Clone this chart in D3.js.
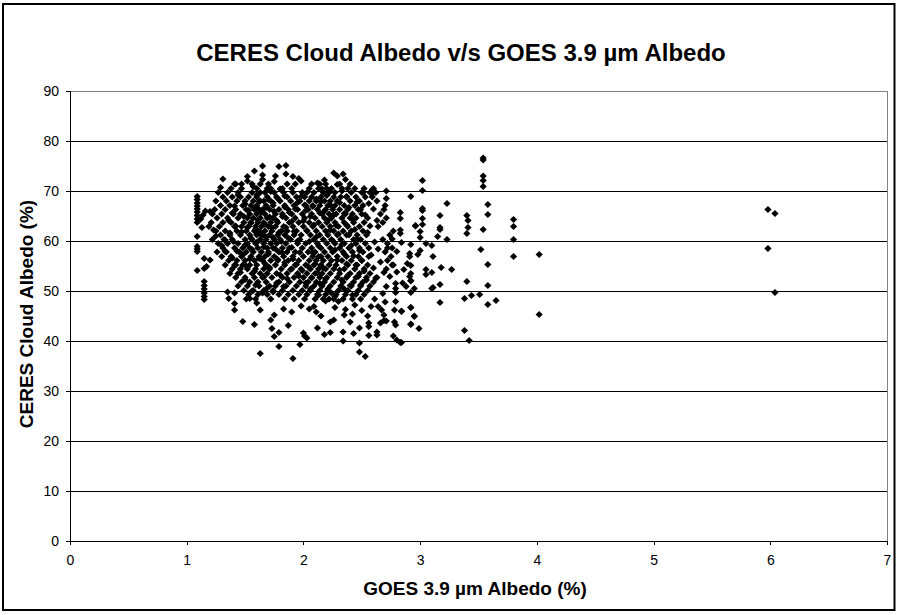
<!DOCTYPE html>
<html>
<head>
<meta charset="utf-8">
<script src="https://cdnjs.cloudflare.com/ajax/libs/d3/7.8.5/d3.min.js"></script>
<style>
  html, body { margin: 0; padding: 0; background: #fff; }
  text { font-family: "Liberation Sans", Arial, sans-serif; fill: #000; }
</style>
</head>
<body>
<div id="chart"></div>
<script>
var xTicks = [0, 1, 2, 3, 4, 5, 6, 7];
var yTicks = [0, 10, 20, 30, 40, 50, 60, 70, 80, 90];

// outlying points, read one by one: [GOES albedo, CERES albedo]
var sparsePoints = [
  [3.54,76.6],[3.54,76.2],[3.54,73.0],[3.54,72.1],[3.54,70.9],[3.02,72.1],[3.02,70.1],[2.92,68.9],
  [3.23,67.5],[3.58,67.3],[3.58,65.3],[3.02,66.5],[3.02,66.1],[3.17,65.1],[3.40,65.1],[3.41,64.1],
  [3.80,64.3],[3.80,62.9],[3.02,64.5],[3.02,63.3],[2.96,63.1],[3.17,62.7],[3.17,62.3],[3.41,62.7],
  [3.54,62.3],[3.40,61.5],[3.00,61.9],[3.00,60.7],[3.15,60.9],[3.23,60.3],[3.80,60.3],[4.02,57.3],
  [3.80,56.9],[3.52,58.3],[2.92,59.3],[3.05,59.5],[3.10,59.1],[3.00,58.1],[2.98,57.3],[2.91,57.5],
  [2.91,56.9],[3.11,56.9],[2.89,55.5],[2.92,55.1],[3.58,55.3],[3.18,54.7],[3.27,54.3],[3.05,54.3],
  [3.05,53.3],[3.10,53.7],[2.86,54.3],[2.92,53.5],[2.91,52.9],[2.92,52.1],[3.40,51.9],[3.58,51.1],
  [3.17,51.3],[3.10,50.5],[3.11,50.7],[2.95,50.5],[2.88,50.9],[2.92,49.7],[3.44,49.1],[3.51,49.3],
  [3.38,48.5],[3.17,47.7],[3.58,47.3],[3.65,48.1],[2.92,46.7],[2.84,45.9],[2.95,44.9],[4.02,45.3],
  [2.92,43.3],[2.99,42.5],[3.38,42.1],[3.42,40.1],[2.83,39.7],
  [5.98,66.3],[6.04,65.5],[5.98,58.5],[6.04,49.7],
  [1.09,68.9],[1.09,68.3],[1.09,67.6],[1.09,67.0],[1.09,66.4],[1.09,65.8],[1.09,65.1],[1.09,64.4],
  [1.09,63.7],[1.16,66.0],[1.14,65.2],[1.12,64.4],[1.13,62.7],[1.09,60.9],[1.09,58.9],[1.09,58.4],
  [1.09,57.9],[1.15,56.5],[1.17,54.9],[1.15,54.5],[1.09,54.1],[1.15,51.9],[1.15,51.1],[1.15,50.4],
  [1.15,49.6],[1.15,48.9],[1.15,48.3],[1.20,65.9],[1.23,62.2],[1.25,61.0],[1.20,56.2],
  [1.65,75.0],[1.58,74.0],[1.79,74.9],[1.85,75.1],[1.85,73.4],[1.91,72.9],[1.96,72.5],[1.31,72.4],
  [1.29,70.7],[1.42,71.4],[1.47,71.4],[1.52,72.9],[1.52,72.0],[1.65,73.2],[1.65,72.3],[1.76,73.0],
  [1.75,71.9],[1.63,37.5],[1.91,36.5],[1.79,38.9],[1.75,40.9],[1.79,41.7],[1.73,42.5],[1.87,43.1],
  [1.48,43.9],[1.58,43.3],[1.41,46.2],[1.41,47.5],[1.36,48.5],[1.54,48.5],[1.60,47.6],[1.63,46.2],
  [1.75,45.2],[1.72,44.2],[1.35,49.8],[1.41,49.6],[1.83,46.4],[1.90,45.8],[1.98,47.0],
  [2.26,73.6],[2.29,73.0],[2.34,73.4],[2.36,72.3],[1.98,72.0],[2.18,72.2],[2.12,71.6],[2.83,65.7],
  [2.83,64.5],[2.83,62.2],[2.83,61.5],[2.71,70.0],[2.71,68.5],[2.59,70.3],[2.59,69.5],[2.51,69.7],
  [2.96,63.0],[2.48,37.8],[2.53,36.9],[1.97,39.3],[2.34,40.0],[2.48,39.6],[2.34,41.8],[2.43,41.5],
  [2.23,41.7],[2.18,41.3],[2.12,42.6],[2.03,40.6],[2.00,41.6],[2.01,41.0],[2.56,41.1],[2.63,41.8],
  [2.63,41.2],[2.56,43.6],[2.56,42.9],[2.48,42.6],[2.40,43.8],[2.23,43.8],[2.26,44.2],[2.66,43.6],
  [2.69,44.1],[2.71,44.0],[2.69,45.2],[2.55,45.0],[2.78,43.8],[2.79,43.2],[2.77,41.0],[2.80,40.2],
  [2.84,39.7],[2.92,43.4],[2.95,45.0],[2.92,46.7],[2.84,46.0],[2.78,46.2],[2.79,47.9],[2.79,49.7],
  [2.79,50.5],[2.79,51.5],[2.85,51.6],[2.92,52.0],[2.67,46.2],[2.64,46.9],[2.70,47.8],[2.58,46.9],
  [2.50,46.1],[2.42,45.4],[2.36,46.3],[2.44,47.2],[2.30,47.9],[2.22,48.4],[2.11,45.8],[2.15,45.0],
  [2.05,46.4],[2.09,46.9],[2.27,46.7],[2.35,45.2]
];

// thick clumps inside the cloud, placed by eye
var clumpPoints = [
  [1.57,70.9],[1.60,69.2],[1.62,67.9],[1.58,66.6],[1.64,65.7],[1.61,64.2],[1.67,63.3],[1.59,62.4],
  [1.63,61.4],[1.68,60.8],[1.60,59.7],[1.66,58.8],[1.70,57.4],[1.62,56.5],[1.67,55.5],[1.71,54.7],
  [1.58,53.9],[1.66,52.8],[1.72,69.9],[1.70,68.3],[1.74,67.6],[1.68,66.7],[1.75,65.9],[1.71,64.8],
  [1.77,64.1],[1.73,62.6],[1.79,61.7],[1.74,60.7],[1.81,59.9],[1.76,58.4],[1.82,57.6],[1.78,56.3],
  [1.84,55.7],[1.50,67.4],[1.53,66.1],[1.49,64.9],[1.55,63.6],[1.52,62.7],[1.47,61.8],[1.55,60.6],
  [1.50,59.2],[1.56,58.3],[1.48,57.2],[1.54,56.4],[1.51,55.0],[1.44,69.2],[1.41,67.0],[1.39,65.6],
  [1.36,64.1],[1.42,63.0],[1.37,61.6],[1.40,59.9],[1.43,58.0],[1.84,66.8],[1.88,65.7],[1.82,64.9],
  [1.90,63.9],[1.85,62.7],[1.92,61.9],[1.87,60.6],[1.95,60.0],[1.90,58.7],[1.97,57.7],[1.91,56.4],
  [2.02,66.1],[2.06,64.9],[2.00,64.0],[2.09,63.2],[2.03,62.1],[2.11,60.8],[2.05,59.9],[2.13,59.0],
  [2.08,57.6],[2.15,56.9],[2.10,55.4],[2.17,54.6],[2.12,53.6],[2.19,52.4],[2.14,51.5],[2.21,50.4],
  [2.16,70.4],[2.20,69.1],[2.15,67.9],[2.23,67.2],[2.18,66.0],[2.26,65.2],[2.21,64.1],[2.28,63.1],
  [2.23,62.2],[2.30,61.4],[2.25,60.1],[2.33,59.3],[2.27,58.2],[2.35,57.4],[2.29,56.2],[2.37,55.4],
  [2.31,54.2],[2.38,53.1],[2.33,52.2],[2.40,51.1],[2.35,50.4],[2.42,49.2],[2.29,71.3],[2.33,70.0],
  [2.37,68.9],[2.31,67.7],[2.39,66.7],[2.35,65.5],[2.42,64.4],[2.37,63.2],[2.44,62.3],[2.39,61.2],
  [2.46,60.4],[2.41,59.1],[2.48,58.1],[2.43,57.0],[2.50,56.1],[2.45,55.2],[2.52,54.0],[2.47,52.9],
  [2.54,52.2],[2.49,51.2],[2.24,49.6],[2.27,48.9],[2.19,48.0],[2.13,49.2],[2.06,50.4],[2.02,51.6],
  [1.96,53.0],[1.99,54.1],[1.94,55.3],[2.07,52.6],[2.04,54.9],[1.89,54.3],[1.86,52.5],[1.80,53.2],
  [1.83,50.9],[1.77,51.6],[1.74,49.8],[1.69,50.6],[1.65,49.6],[1.59,51.2],[1.56,50.0],[1.50,52.3],
  [1.46,53.7],[1.42,55.2],[1.39,56.6],[1.33,57.9],[1.30,59.1],[1.33,60.2],[2.56,67.5],[2.60,66.4],
  [2.53,65.2],[2.63,64.1],[2.57,63.0],[2.49,66.3],[2.46,67.8],[2.55,61.7],[2.61,59.8],[2.64,58.4],
  [2.58,57.2],[2.66,55.8],[2.60,54.6],[2.69,53.7],[2.62,52.6],[2.74,52.9],[2.71,50.9],[2.68,49.5],
  [2.72,58.6],[2.76,55.2],[2.80,53.8],[2.80,57.9],[2.76,60.4],[2.84,59.7],[1.98,68.9],[1.95,67.7],
  [2.01,67.2],[1.93,66.4],[2.11,68.4],[2.08,66.9],[2.14,65.6],[1.80,70.4],[1.78,68.5],[1.84,69.0]
];

// dense middle of the cloud, one list of GOES values per CERES level
var ceresLevels = [71.4,70.5,69.7,68.8,68.0,67.1,66.3,65.4,64.6,63.7,62.9,62.0,61.2,60.3,59.5,58.6,57.8,56.9,56.1,55.2,54.4,53.5,52.7,51.8,51.0,50.1,49.3,48.4];
var goesByLevel = [
  [1.41,1.56,1.63,1.70,1.86,1.93,2.07,2.14,2.19,2.31,2.40],
  [1.38,1.47,1.60,1.69,1.72,1.82,1.90,2.05,2.13,2.20,2.24,2.33,2.38,2.44,2.52,2.60],
  [1.27,1.35,1.44,1.56,1.63,1.67,1.75,1.83,1.91,1.99,2.03,2.09,2.17,2.22,2.27,2.41,2.50,2.57,2.62],
  [1.31,1.39,1.46,1.53,1.60,1.69,1.77,1.86,1.94,2.01,2.07,2.15,2.26,2.32,2.37,2.45,2.53,2.59],
  [1.25,1.34,1.43,1.50,1.57,1.63,1.66,1.72,1.80,1.89,1.97,2.05,2.11,2.18,2.23,2.29,2.40,2.48,2.63],
  [1.29,1.37,1.48,1.55,1.60,1.68,1.74,1.84,1.92,2.02,2.08,2.14,2.21,2.27,2.35,2.44,2.51,2.70],
  [1.24,1.33,1.42,1.51,1.58,1.62,1.65,1.71,1.79,1.87,1.95,2.04,2.12,2.19,2.25,2.31,2.38,2.47,2.69],
  [1.22,1.30,1.40,1.46,1.54,1.60,1.67,1.76,1.82,1.90,1.99,2.07,2.16,2.22,2.28,2.36,2.42,2.50,2.66],
  [1.26,1.35,1.44,1.52,1.57,1.63,1.69,1.74,1.85,1.93,2.01,2.10,2.18,2.24,2.33,2.40,2.45,2.55,2.71],
  [1.21,1.31,1.38,1.49,1.55,1.61,1.66,1.72,1.78,1.88,1.96,2.05,2.13,2.20,2.27,2.35,2.43,2.52,2.68],
  [1.19,1.28,1.41,1.47,1.53,1.59,1.64,1.70,1.76,1.83,1.91,2.00,2.08,2.16,2.23,2.30,2.38,2.48,2.64],
  [1.25,1.33,1.43,1.51,1.58,1.62,1.67,1.73,1.81,1.86,1.94,2.03,2.11,2.19,2.26,2.34,2.41,2.51,2.77],
  [1.29,1.37,1.46,1.54,1.60,1.65,1.71,1.78,1.84,1.92,1.98,2.06,2.14,2.21,2.29,2.37,2.46,2.54,2.74],
  [1.22,1.32,1.39,1.50,1.56,1.63,1.68,1.75,1.80,1.89,1.97,2.09,2.17,2.24,2.32,2.43,2.49,2.68],
  [1.27,1.35,1.44,1.52,1.59,1.66,1.72,1.77,1.85,1.95,2.02,2.12,2.20,2.27,2.35,2.45,2.53,2.72],
  [1.31,1.41,1.48,1.54,1.61,1.69,1.74,1.82,1.88,1.99,2.07,2.15,2.23,2.31,2.39,2.48,2.56,2.76],
  [1.26,1.34,1.45,1.51,1.57,1.64,1.70,1.79,1.86,1.93,2.04,2.10,2.18,2.25,2.34,2.42,2.51,2.70],
  [1.30,1.38,1.47,1.55,1.62,1.67,1.75,1.83,1.91,2.00,2.08,2.13,2.21,2.29,2.37,2.47,2.56,2.75],
  [1.36,1.43,1.50,1.58,1.65,1.72,1.78,1.87,1.96,2.05,2.11,2.17,2.24,2.33,2.41,2.50,2.72],
  [1.33,1.41,1.48,1.54,1.60,1.68,1.76,1.84,1.93,2.02,2.09,2.15,2.22,2.28,2.38,2.46,2.55,2.77],
  [1.39,1.46,1.52,1.59,1.66,1.71,1.81,1.90,1.98,2.06,2.13,2.19,2.26,2.35,2.44,2.52,2.71],
  [1.37,1.44,1.56,1.63,1.69,1.77,1.86,1.95,2.03,2.10,2.16,2.23,2.31,2.40,2.48,2.57],
  [1.42,1.50,1.58,1.65,1.73,1.82,1.92,2.00,2.07,2.14,2.20,2.29,2.37,2.45,2.54,2.63],
  [1.47,1.54,1.61,1.68,1.79,1.88,1.97,2.04,2.11,2.18,2.26,2.34,2.43,2.51,2.60],
  [1.44,1.52,1.62,1.71,1.76,1.85,1.94,2.02,2.09,2.16,2.23,2.32,2.41,2.49,2.57],
  [1.49,1.57,1.66,1.74,1.82,1.91,1.99,2.06,2.14,2.21,2.30,2.38,2.47,2.55],
  [1.53,1.61,1.69,1.79,1.87,1.96,2.03,2.12,2.19,2.28,2.36,2.45,2.52],
  [1.51,1.59,1.72,1.84,1.92,2.01,2.10,2.17,2.26,2.34,2.42,2.49,2.61]
];

var margin = {top: 91, right: 15, bottom: 74, left: 70},
    width = 902 - margin.left - margin.right,
    height = 615 - margin.top - margin.bottom;

var svg = d3.select("#chart").append("svg")
    .attr("width", 902)
    .attr("height", 615)
    .style("display", "block");

// outer frame of the chart area
svg.append("rect")
    .attr("x", 3).attr("y", 4)
    .attr("width", 891.5).attr("height", 606)
    .attr("fill", "#fff")
    .attr("stroke", "#000")
    .attr("stroke-width", 2);

var g = svg.append("g")
    .attr("transform", "translate(" + margin.left + "," + margin.top + ")");

var x = d3.scaleLinear().domain([0, 7]).range([0, width]);
var y = d3.scaleLinear().domain([0, 90]).range([height, 0]);

// plot border, grey on top and right
g.append("path")
    .attr("d", "M0,0H" + width + "V" + height)
    .attr("fill", "none")
    .attr("stroke", "#808080")
    .attr("shape-rendering", "crispEdges");

// gridlines
g.append("g")
    .selectAll("line")
    .data(yTicks.filter(function(d) { return d > 0 && d < 90; }))
    .enter().append("line")
    .attr("x1", 0).attr("x2", width)
    .attr("y1", function(d) { return Math.round(y(d)) + 0.5; })
    .attr("y2", function(d) { return Math.round(y(d)) + 0.5; })
    .attr("stroke", "#000")
    .attr("shape-rendering", "crispEdges");

// axes
var xAxis = g.append("g")
    .attr("transform", "translate(0," + height + ")")
    .call(d3.axisBottom(x).tickValues(xTicks).tickFormat(d3.format("d")).tickSize(4).tickPadding(10));
var yAxis = g.append("g")
    .call(d3.axisLeft(y).tickValues(yTicks).tickFormat(d3.format("d")).tickSize(4).tickPadding(7));

[xAxis, yAxis].forEach(function(a) {
  a.selectAll("text").style("font-size", "14px").style("font-family", "'Liberation Sans', Arial, sans-serif");
  a.selectAll("line, .domain").attr("stroke", "#000").attr("shape-rendering", "crispEdges");
});

// scatter points
var points = sparsePoints.concat(clumpPoints);
ceresLevels.forEach(function(level, i) {
  goesByLevel[i].forEach(function(goes) { points.push([goes, level]); });
});

var diamond = "M0,-3.6L3.6,0L0,3.6L-3.6,0Z";
g.append("g")
    .selectAll("path")
    .data(points)
    .enter().append("path")
    .attr("d", diamond)
    .attr("transform", function(d) { return "translate(" + x(d[0]) + "," + y(d[1]) + ")"; })
    .attr("fill", "#000");

// titles
svg.append("text")
    .attr("x", 461).attr("y", 61)
    .attr("text-anchor", "middle")
    .style("font-size", "24px")
    .style("font-weight", "bold")
    .text("CERES Cloud Albedo v/s GOES 3.9 µm Albedo");

svg.append("text")
    .attr("x", 475).attr("y", 595)
    .attr("text-anchor", "middle")
    .style("font-size", "19px")
    .style("font-weight", "bold")
    .text("GOES 3.9 µm Albedo (%)");

svg.append("text")
    .attr("transform", "translate(33,314) rotate(-90)")
    .attr("text-anchor", "middle")
    .style("font-size", "19px")
    .style("font-weight", "bold")
    .text("CERES Cloud Albedo (%)");
</script>
</body>
</html>
